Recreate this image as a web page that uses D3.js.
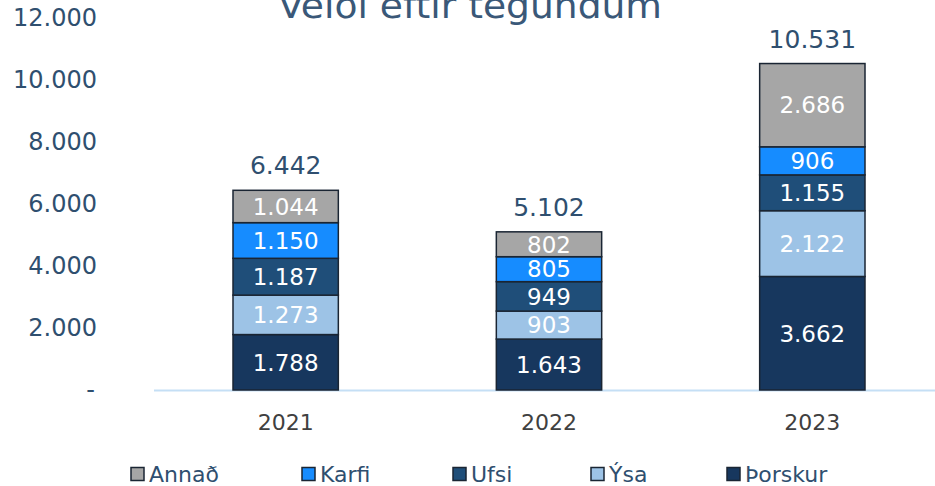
<!DOCTYPE html>
<html>
<head>
<meta charset="utf-8">
<script src="https://cdn.jsdelivr.net/npm/d3@7"></script>
<style>
  body { margin: 0; background: #fff; }
  text { font-family: "DejaVu Sans", Verdana, sans-serif; }
</style>
</head>
<body>
<svg width="935" height="486"></svg>
<script>
// gegevens: veiði eftir tegundum
var years = ["2021", "2022", "2023"];
var species = ["Þorskur", "Ýsa", "Ufsi", "Karfi", "Annað"];
var thorskur = [1788, 1643, 3662];
var ysa = [1273, 903, 2122];
var ufsi = [1187, 949, 1155];
var karfi = [1150, 805, 906];
var annad = [1044, 802, 2686];
var totals = [6442, 5102, 10531];
var yTicks = [0, 2000, 4000, 6000, 8000, 10000, 12000];
var legendOrder = ["Annað", "Karfi", "Ufsi", "Ýsa", "Þorskur"];

var colors = {
    "Þorskur": "#17375e",
    "Ýsa": "#9dc3e6",
    "Ufsi": "#1f4e79",
    "Karfi": "#168cff",
    "Annað": "#a6a6a6"
};

var svg = d3.select("svg");

// tafla fyrir stack
var table = years.map(function (y, i) {
    return {
        year: y,
        "Þorskur": thorskur[i],
        "Ýsa": ysa[i],
        "Ufsi": ufsi[i],
        "Karfi": karfi[i],
        "Annað": annad[i]
    };
});

var stacked = d3.stack().keys(species)(table);

var x = d3.scaleBand().domain(years).range([154, 944]).paddingInner(0.6).paddingOuter(0.3);
var y = d3.scaleLinear().domain([0, 12000]).range([390, 18]);

// punt als duizendtal-scheiding
var fmt = function (v) {
    return d3.format(",")(v).replace(/,/g, ".");
};

// titill (bovenkant valt buiten beeld, net als in het origineel)
svg.append("text")
    .attr("x", 470)
    .attr("y", 18)
    .attr("text-anchor", "middle")
    .attr("fill", "#3a5878")
    .attr("textLength", 384)
    .attr("lengthAdjust", "spacingAndGlyphs")
    .style("font-size", "36px")
    .text("Veiði eftir tegundum");

// y as labels
svg.append("g")
    .selectAll("text")
    .data(yTicks)
    .enter().append("text")
    .attr("x", function (d) { return d === 0 ? 95 : 97; })
    .attr("y", function (d) { return y(d); })
    .attr("dy", "0.35em")
    .attr("text-anchor", "end")
    .attr("fill", "#2f4f6f")
    .style("font-size", "24px")
    .text(function (d) { return d === 0 ? "-" : fmt(d); });

// x as lijn
svg.append("line")
    .attr("x1", 154)
    .attr("x2", 935)
    .attr("y1", y(0) + 0.5)
    .attr("y2", y(0) + 0.5)
    .attr("stroke", "#c5dff5")
    .attr("stroke-width", 2);

// bars
var layers = svg.append("g")
    .selectAll("g")
    .data(stacked)
    .enter().append("g")
    .attr("fill", function (d) { return colors[d.key]; });

layers.selectAll("rect")
    .data(function (d) { return d; })
    .enter().append("rect")
    .attr("x", function (d) { return x(d.data.year); })
    .attr("y", function (d) { return y(d[1]); })
    .attr("width", x.bandwidth())
    .attr("height", function (d) { return y(d[0]) - y(d[1]); })
    .attr("stroke", "#1a2533")
    .attr("stroke-width", 1.5);

// labels in de bars
layers.selectAll("text")
    .data(function (d) { return d; })
    .enter().append("text")
    .attr("x", function (d) { return x(d.data.year) + x.bandwidth() / 2; })
    .attr("y", function (d) { return (y(d[0]) + y(d[1])) / 2; })
    .attr("dy", "0.36em")
    .attr("text-anchor", "middle")
    .attr("fill", "#ffffff")
    .style("font-size", "23px")
    .text(function (d) { return fmt(d[1] - d[0]); });

// totalen boven de bars
svg.append("g")
    .selectAll("text")
    .data(years)
    .enter().append("text")
    .attr("x", function (d) { return x(d) + x.bandwidth() / 2; })
    .attr("y", function (d, i) { return y(totals[i]) - 16; })
    .attr("text-anchor", "middle")
    .attr("fill", "#2f4f6f")
    .style("font-size", "25px")
    .text(function (d, i) { return fmt(totals[i]); });

// x as labels
svg.append("g")
    .selectAll("text")
    .data(years)
    .enter().append("text")
    .attr("x", function (d) { return x(d) + x.bandwidth() / 2; })
    .attr("y", 422)
    .attr("dy", "0.35em")
    .attr("text-anchor", "middle")
    .attr("fill", "#404040")
    .style("font-size", "22px")
    .text(function (d) { return d; });

// legenda
var legendX = [131, 302, 453, 591, 727];
var legend = svg.append("g")
    .selectAll("g")
    .data(legendOrder)
    .enter().append("g")
    .attr("transform", function (d, i) { return "translate(" + legendX[i] + ",474)"; });

legend.append("rect")
    .attr("x", 0)
    .attr("y", -6.5)
    .attr("width", 13)
    .attr("height", 13)
    .attr("fill", function (d) { return colors[d]; })
    .attr("stroke", "#1a2533")
    .attr("stroke-width", 1.5);

legend.append("text")
    .attr("x", 18)
    .attr("y", 0)
    .attr("dy", "0.35em")
    .attr("fill", "#2f4f6f")
    .style("font-size", "22px")
    .text(function (d) { return d; });
</script>
</body>
</html>
